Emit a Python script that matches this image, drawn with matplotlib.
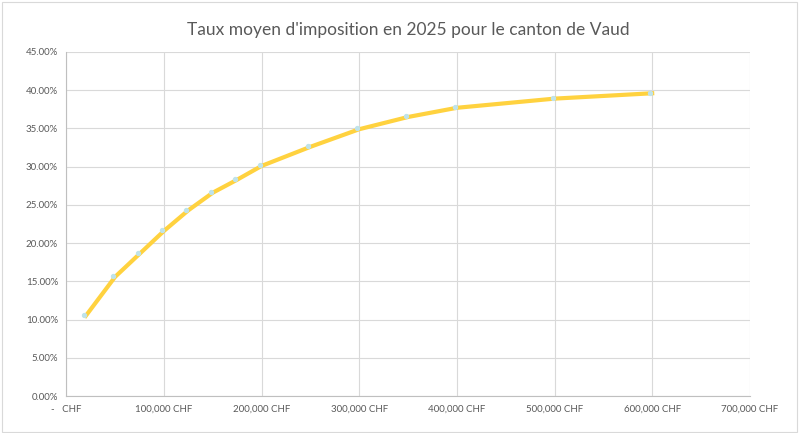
import matplotlib.pyplot as plt
from matplotlib.ticker import FuncFormatter, MultipleLocator
from matplotlib.patches import Rectangle

plt.rcParams['font.family'] = ['Lato', 'DejaVu Sans']

revenu = [20000, 50000, 75000, 100000, 125000, 150000, 175000, 200000,
          250000, 300000, 350000, 400000, 500000, 600000]
taux = [10.5, 15.6, 18.6, 21.6, 24.3, 26.6, 28.3, 30.1,
        32.6, 34.9, 36.5, 37.7, 38.9, 39.6]

fig, ax = plt.subplots(figsize=(8.08, 4.33), dpi=100)
fig.subplots_adjust(left=0.082, right=0.928, top=0.88, bottom=0.085)

ax.plot(revenu, taux, color='#FFD23F', lw=3, zorder=2)
ax.scatter([r - 2000 for r in revenu], [t + 0.1 for t in taux], s=8,
           color='#BFE3EA', zorder=3)

ax.set_xlim(0, 700000)
ax.set_ylim(0, 45)
ax.xaxis.set_major_locator(MultipleLocator(100000))
ax.yaxis.set_major_locator(MultipleLocator(5))
ax.xaxis.set_major_formatter(FuncFormatter(
    lambda v, p: '-   CHF' if v == 0 else f'{int(v):,} CHF'))
ax.yaxis.set_major_formatter(FuncFormatter(lambda v, p: f'{v:.2f}%'))
ax.tick_params(labelsize=7, colors='#595959', length=0, pad=6)
ax.grid(color='#D9D9D9', lw=0.8)
ax.set_axisbelow(True)
for s in ['top', 'right']:
    ax.spines[s].set_visible(False)
for s in ['left', 'bottom']:
    ax.spines[s].set_color('#BFBFBF')

ax.set_title("Taux moyen d'imposition en 2025 pour le canton de Vaud",
             fontsize=12.5, color='#595959', pad=12)

fig.patches.append(Rectangle((0.002, 0.003), 0.985, 0.992, transform=fig.transFigure,
                             fill=False, edgecolor='#D9D9D9', lw=0.8))

fig.savefig('out.png')
